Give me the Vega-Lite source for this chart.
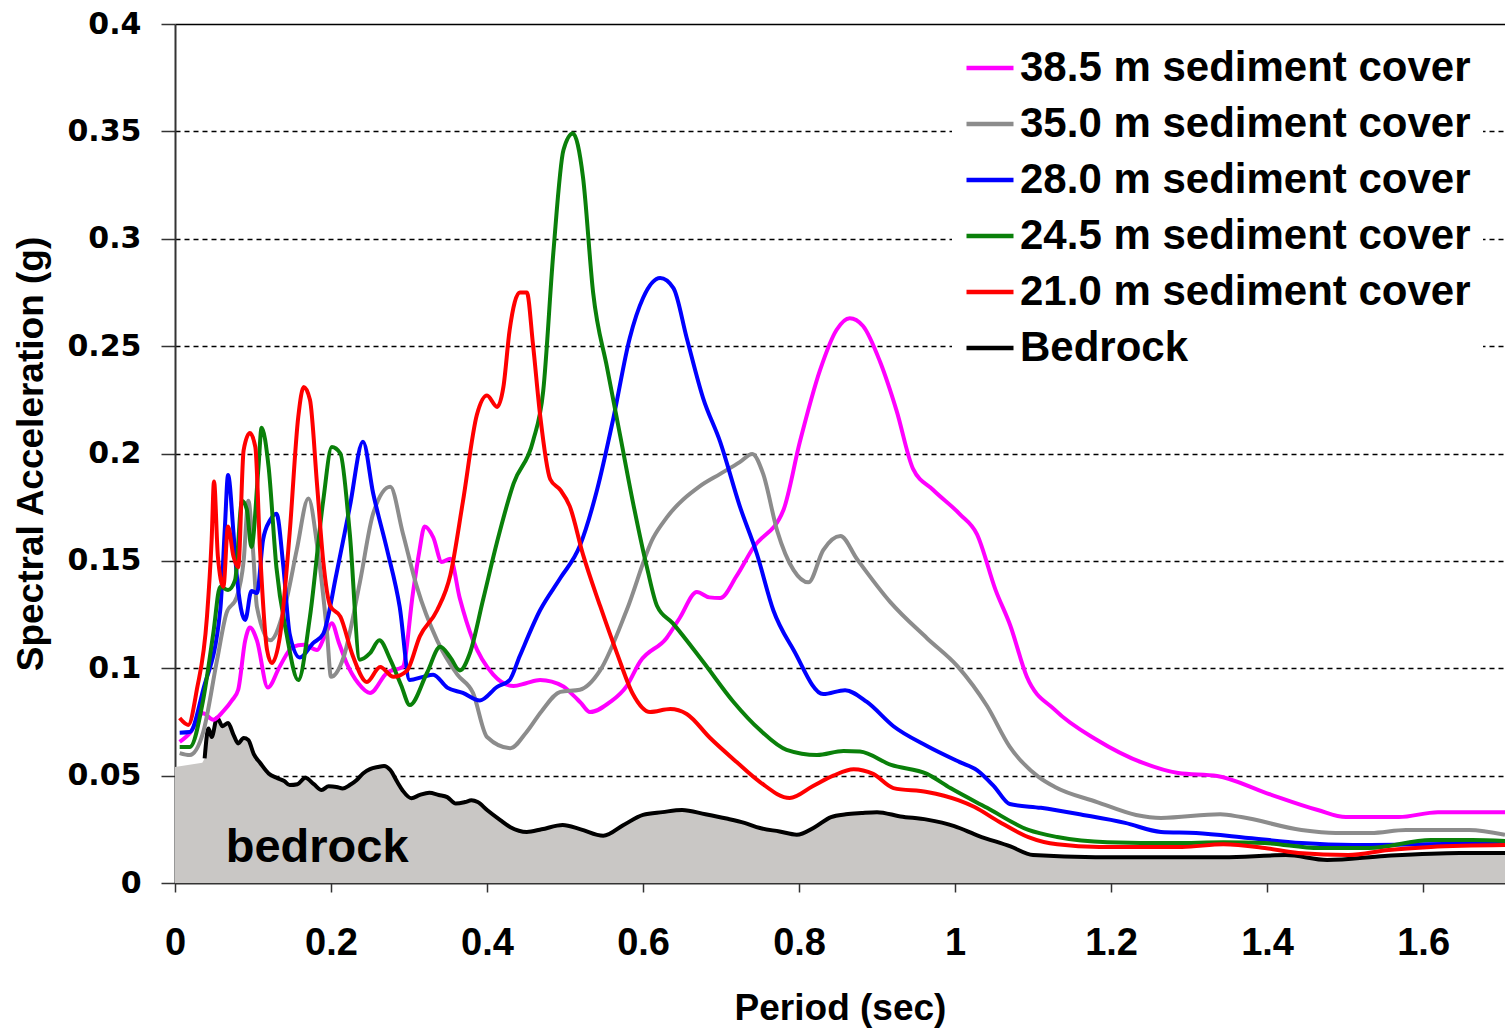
{
  "$schema": "https://vega.github.io/schema/vega-lite/v6.json",
  "width": 1330,
  "height": 859,
  "autosize": {"type": "none"},
  "padding": {"left": 175, "top": 24, "right": 0, "bottom": 146},
  "background": "white",
  "config": {"view": {"stroke": null}},
  "data": {"values": [
    {"s":"Bedrock","x":0,"y":0.054},{"s":"Bedrock","x":0.035,"y":0.056},{"s":"Bedrock","x":0.038,"y":0.058},{"s":"Bedrock","x":0.043,"y":0.072},{"s":"Bedrock","x":0.047,"y":0.068},{"s":"Bedrock","x":0.054,"y":0.077},{"s":"Bedrock","x":0.061,"y":0.073},{"s":"Bedrock","x":0.068,"y":0.0745},{"s":"Bedrock","x":0.075,"y":0.069},{"s":"Bedrock","x":0.081,"y":0.065},{"s":"Bedrock","x":0.088,"y":0.0675},{"s":"Bedrock","x":0.094,"y":0.0666},{"s":"Bedrock","x":0.101,"y":0.06},{"s":"Bedrock","x":0.109,"y":0.056},{"s":"Bedrock","x":0.12,"y":0.051},{"s":"Bedrock","x":0.13,"y":0.049},{"s":"Bedrock","x":0.14,"y":0.0475},{"s":"Bedrock","x":0.147,"y":0.0456},{"s":"Bedrock","x":0.157,"y":0.046},{"s":"Bedrock","x":0.167,"y":0.049},{"s":"Bedrock","x":0.178,"y":0.046},{"s":"Bedrock","x":0.188,"y":0.0433},{"s":"Bedrock","x":0.197,"y":0.045},{"s":"Bedrock","x":0.207,"y":0.0447},{"s":"Bedrock","x":0.215,"y":0.044},{"s":"Bedrock","x":0.224,"y":0.0456},{"s":"Bedrock","x":0.233,"y":0.048},{"s":"Bedrock","x":0.241,"y":0.051},{"s":"Bedrock","x":0.25,"y":0.053},{"s":"Bedrock","x":0.26,"y":0.054},{"s":"Bedrock","x":0.268,"y":0.0545},{"s":"Bedrock","x":0.276,"y":0.0526},{"s":"Bedrock","x":0.285,"y":0.047},{"s":"Bedrock","x":0.292,"y":0.043},{"s":"Bedrock","x":0.303,"y":0.0395},{"s":"Bedrock","x":0.314,"y":0.041},{"s":"Bedrock","x":0.326,"y":0.042},{"s":"Bedrock","x":0.338,"y":0.041},{"s":"Bedrock","x":0.349,"y":0.04},{"s":"Bedrock","x":0.36,"y":0.037},{"s":"Bedrock","x":0.372,"y":0.0377},{"s":"Bedrock","x":0.38,"y":0.0385},{"s":"Bedrock","x":0.388,"y":0.0377},{"s":"Bedrock","x":0.4,"y":0.034},{"s":"Bedrock","x":0.417,"y":0.0293},{"s":"Bedrock","x":0.43,"y":0.026},{"s":"Bedrock","x":0.451,"y":0.0238},{"s":"Bedrock","x":0.47,"y":0.025},{"s":"Bedrock","x":0.497,"y":0.027},{"s":"Bedrock","x":0.52,"y":0.025},{"s":"Bedrock","x":0.549,"y":0.022},{"s":"Bedrock","x":0.575,"y":0.027},{"s":"Bedrock","x":0.6,"y":0.0317},{"s":"Bedrock","x":0.625,"y":0.033},{"s":"Bedrock","x":0.65,"y":0.034},{"s":"Bedrock","x":0.68,"y":0.032},{"s":"Bedrock","x":0.707,"y":0.03},{"s":"Bedrock","x":0.73,"y":0.028},{"s":"Bedrock","x":0.75,"y":0.0256},{"s":"Bedrock","x":0.775,"y":0.024},{"s":"Bedrock","x":0.797,"y":0.0225},{"s":"Bedrock","x":0.82,"y":0.026},{"s":"Bedrock","x":0.841,"y":0.0307},{"s":"Bedrock","x":0.86,"y":0.032},{"s":"Bedrock","x":0.88,"y":0.0326},{"s":"Bedrock","x":0.9,"y":0.033},{"s":"Bedrock","x":0.93,"y":0.031},{"s":"Bedrock","x":0.964,"y":0.0295},{"s":"Bedrock","x":0.999,"y":0.0265},{"s":"Bedrock","x":1.03,"y":0.022},{"s":"Bedrock","x":1.071,"y":0.017},{"s":"Bedrock","x":1.1,"y":0.013},{"s":"Bedrock","x":1.18,"y":0.012},{"s":"Bedrock","x":1.344,"y":0.012},{"s":"Bedrock","x":1.424,"y":0.013},{"s":"Bedrock","x":1.477,"y":0.0107},{"s":"Bedrock","x":1.551,"y":0.0126},{"s":"Bedrock","x":1.647,"y":0.014},{"s":"Bedrock","x":1.705,"y":0.014},

    {"s":"38.5","x":0.006,"y":0.0657},{"s":"38.5","x":0.019,"y":0.0698},{"s":"38.5","x":0.036,"y":0.079},{"s":"38.5","x":0.049,"y":0.076},{"s":"38.5","x":0.062,"y":0.08},{"s":"38.5","x":0.073,"y":0.085},{"s":"38.5","x":0.081,"y":0.09},{"s":"38.5","x":0.09,"y":0.113},{"s":"38.5","x":0.096,"y":0.119},{"s":"38.5","x":0.105,"y":0.113},{"s":"38.5","x":0.119,"y":0.091},{"s":"38.5","x":0.134,"y":0.1006},{"s":"38.5","x":0.151,"y":0.11},{"s":"38.5","x":0.165,"y":0.111},{"s":"38.5","x":0.182,"y":0.1085},{"s":"38.5","x":0.192,"y":0.115},{"s":"38.5","x":0.201,"y":0.121},{"s":"38.5","x":0.21,"y":0.112},{"s":"38.5","x":0.22,"y":0.1024},{"s":"38.5","x":0.235,"y":0.093},{"s":"38.5","x":0.25,"y":0.0885},{"s":"38.5","x":0.272,"y":0.098},{"s":"38.5","x":0.292,"y":0.1006},{"s":"38.5","x":0.305,"y":0.135},{"s":"38.5","x":0.313,"y":0.154},{"s":"38.5","x":0.32,"y":0.166},{"s":"38.5","x":0.331,"y":0.161},{"s":"38.5","x":0.342,"y":0.1495},{"s":"38.5","x":0.353,"y":0.151},{"s":"38.5","x":0.365,"y":0.1327},{"s":"38.5","x":0.382,"y":0.113},{"s":"38.5","x":0.408,"y":0.097},{"s":"38.5","x":0.434,"y":0.0917},{"s":"38.5","x":0.45,"y":0.093},{"s":"38.5","x":0.468,"y":0.0945},{"s":"38.5","x":0.498,"y":0.0915},{"s":"38.5","x":0.506,"y":0.089},{"s":"38.5","x":0.52,"y":0.084},{"s":"38.5","x":0.532,"y":0.0796},{"s":"38.5","x":0.558,"y":0.0843},{"s":"38.5","x":0.579,"y":0.0917},{"s":"38.5","x":0.596,"y":0.103},{"s":"38.5","x":0.63,"y":0.114},{"s":"38.5","x":0.647,"y":0.1234},{"s":"38.5","x":0.669,"y":0.1355},{"s":"38.5","x":0.685,"y":0.133},{"s":"38.5","x":0.699,"y":0.1327},{"s":"38.5","x":0.72,"y":0.143},{"s":"38.5","x":0.741,"y":0.156},{"s":"38.5","x":0.78,"y":0.1737},{"s":"38.5","x":0.801,"y":0.2053},{"s":"38.5","x":0.827,"y":0.2389},{"s":"38.5","x":0.848,"y":0.2575},{"s":"38.5","x":0.865,"y":0.263},{"s":"38.5","x":0.882,"y":0.2594},{"s":"38.5","x":0.904,"y":0.2426},{"s":"38.5","x":0.925,"y":0.22},{"s":"38.5","x":0.946,"y":0.193},{"s":"38.5","x":0.972,"y":0.183},{"s":"38.5","x":1.006,"y":0.1718},{"s":"38.5","x":1.028,"y":0.1625},{"s":"38.5","x":1.052,"y":0.1364},{"s":"38.5","x":1.071,"y":0.1197},{"s":"38.5","x":1.092,"y":0.096},{"s":"38.5","x":1.128,"y":0.0806},{"s":"38.5","x":1.182,"y":0.0666},{"s":"38.5","x":1.241,"y":0.0559},{"s":"38.5","x":1.286,"y":0.0512},{"s":"38.5","x":1.336,"y":0.0498},{"s":"38.5","x":1.399,"y":0.0419},{"s":"38.5","x":1.465,"y":0.034},{"s":"38.5","x":1.501,"y":0.0307},{"s":"38.5","x":1.569,"y":0.0307},{"s":"38.5","x":1.619,"y":0.033},{"s":"38.5","x":1.705,"y":0.033},

    {"s":"35.0","x":0.006,"y":0.0605},{"s":"35.0","x":0.019,"y":0.0596},{"s":"35.0","x":0.036,"y":0.07},{"s":"35.0","x":0.054,"y":0.104},{"s":"35.0","x":0.066,"y":0.1257},{"s":"35.0","x":0.079,"y":0.133},{"s":"35.0","x":0.088,"y":0.15},{"s":"35.0","x":0.094,"y":0.178},{"s":"35.0","x":0.1,"y":0.155},{"s":"35.0","x":0.105,"y":0.1286},{"s":"35.0","x":0.122,"y":0.113},{"s":"35.0","x":0.143,"y":0.132},{"s":"35.0","x":0.156,"y":0.155},{"s":"35.0","x":0.171,"y":0.179},{"s":"35.0","x":0.183,"y":0.155},{"s":"35.0","x":0.195,"y":0.116},{"s":"35.0","x":0.2,"y":0.096},{"s":"35.0","x":0.216,"y":0.105},{"s":"35.0","x":0.237,"y":0.14},{"s":"35.0","x":0.254,"y":0.172},{"s":"35.0","x":0.276,"y":0.1845},{"s":"35.0","x":0.292,"y":0.163},{"s":"35.0","x":0.31,"y":0.138},{"s":"35.0","x":0.336,"y":0.113},{"s":"35.0","x":0.362,"y":0.097},{"s":"35.0","x":0.382,"y":0.0885},{"s":"35.0","x":0.4,"y":0.068},{"s":"35.0","x":0.43,"y":0.0628},{"s":"35.0","x":0.45,"y":0.07},{"s":"35.0","x":0.47,"y":0.08},{"s":"35.0","x":0.494,"y":0.089},{"s":"35.0","x":0.519,"y":0.09},{"s":"35.0","x":0.545,"y":0.099},{"s":"35.0","x":0.579,"y":0.127},{"s":"35.0","x":0.613,"y":0.1607},{"s":"35.0","x":0.63,"y":0.17},{"s":"35.0","x":0.673,"y":0.1848},{"s":"35.0","x":0.699,"y":0.1905},{"s":"35.0","x":0.724,"y":0.196},{"s":"35.0","x":0.74,"y":0.1998},{"s":"35.0","x":0.754,"y":0.1905},{"s":"35.0","x":0.772,"y":0.164},{"s":"35.0","x":0.793,"y":0.1457},{"s":"35.0","x":0.812,"y":0.14},{"s":"35.0","x":0.831,"y":0.155},{"s":"35.0","x":0.853,"y":0.1616},{"s":"35.0","x":0.874,"y":0.151},{"s":"35.0","x":0.917,"y":0.1308},{"s":"35.0","x":0.964,"y":0.114},{"s":"35.0","x":1.003,"y":0.101},{"s":"35.0","x":1.041,"y":0.0824},{"s":"35.0","x":1.07,"y":0.0635},{"s":"35.0","x":1.107,"y":0.0494},{"s":"35.0","x":1.128,"y":0.0447},{"s":"35.0","x":1.182,"y":0.0377},{"s":"35.0","x":1.232,"y":0.0317},{"s":"35.0","x":1.264,"y":0.0303},{"s":"35.0","x":1.34,"y":0.032},{"s":"35.0","x":1.367,"y":0.0307},{"s":"35.0","x":1.444,"y":0.0247},{"s":"35.0","x":1.488,"y":0.0233},{"s":"35.0","x":1.533,"y":0.0233},{"s":"35.0","x":1.578,"y":0.0247},{"s":"35.0","x":1.659,"y":0.0247},{"s":"35.0","x":1.705,"y":0.0224},

    {"s":"28.0","x":0.006,"y":0.07},{"s":"28.0","x":0.019,"y":0.0703},{"s":"28.0","x":0.036,"y":0.0898},{"s":"28.0","x":0.058,"y":0.127},{"s":"28.0","x":0.064,"y":0.166},{"s":"28.0","x":0.068,"y":0.19},{"s":"28.0","x":0.075,"y":0.163},{"s":"28.0","x":0.079,"y":0.144},{"s":"28.0","x":0.09,"y":0.1225},{"s":"28.0","x":0.098,"y":0.136},{"s":"28.0","x":0.105,"y":0.135},{"s":"28.0","x":0.113,"y":0.16},{"s":"28.0","x":0.122,"y":0.169},{"s":"28.0","x":0.13,"y":0.172},{"s":"28.0","x":0.139,"y":0.147},{"s":"28.0","x":0.147,"y":0.116},{"s":"28.0","x":0.16,"y":0.105},{"s":"28.0","x":0.177,"y":0.1117},{"s":"28.0","x":0.19,"y":0.116},{"s":"28.0","x":0.207,"y":0.144},{"s":"28.0","x":0.224,"y":0.175},{"s":"28.0","x":0.241,"y":0.2055},{"s":"28.0","x":0.254,"y":0.1815},{"s":"28.0","x":0.272,"y":0.155},{"s":"28.0","x":0.288,"y":0.1287},{"s":"28.0","x":0.301,"y":0.0945},{"s":"28.0","x":0.318,"y":0.096},{"s":"28.0","x":0.331,"y":0.097},{"s":"28.0","x":0.349,"y":0.091},{"s":"28.0","x":0.369,"y":0.0885},{"s":"28.0","x":0.391,"y":0.085},{"s":"28.0","x":0.413,"y":0.0913},{"s":"28.0","x":0.429,"y":0.0945},{"s":"28.0","x":0.442,"y":0.1057},{"s":"28.0","x":0.468,"y":0.127},{"s":"28.0","x":0.494,"y":0.142},{"s":"28.0","x":0.519,"y":0.157},{"s":"28.0","x":0.541,"y":0.183},{"s":"28.0","x":0.562,"y":0.2165},{"s":"28.0","x":0.583,"y":0.2538},{"s":"28.0","x":0.6,"y":0.2724},{"s":"28.0","x":0.622,"y":0.2817},{"s":"28.0","x":0.639,"y":0.277},{"s":"28.0","x":0.656,"y":0.2538},{"s":"28.0","x":0.677,"y":0.2258},{"s":"28.0","x":0.699,"y":0.2053},{"s":"28.0","x":0.724,"y":0.1755},{"s":"28.0","x":0.746,"y":0.1532},{"s":"28.0","x":0.767,"y":0.127},{"s":"28.0","x":0.793,"y":0.1085},{"s":"28.0","x":0.831,"y":0.088},{"s":"28.0","x":0.859,"y":0.0898},{"s":"28.0","x":0.887,"y":0.0843},{"s":"28.0","x":0.921,"y":0.073},{"s":"28.0","x":0.964,"y":0.0638},{"s":"28.0","x":1.006,"y":0.0563},{"s":"28.0","x":1.028,"y":0.0526},{"s":"28.0","x":1.05,"y":0.045},{"s":"28.0","x":1.07,"y":0.0368},{"s":"28.0","x":1.11,"y":0.035},{"s":"28.0","x":1.164,"y":0.0317},{"s":"28.0","x":1.218,"y":0.028},{"s":"28.0","x":1.264,"y":0.0238},{"s":"28.0","x":1.309,"y":0.0233},{"s":"28.0","x":1.376,"y":0.021},{"s":"28.0","x":1.444,"y":0.0186},{"s":"28.0","x":1.51,"y":0.0177},{"s":"28.0","x":1.533,"y":0.0177},{"s":"28.0","x":1.6,"y":0.018},{"s":"28.0","x":1.705,"y":0.0185},

    {"s":"24.5","x":0.006,"y":0.0633},{"s":"24.5","x":0.019,"y":0.0633},{"s":"24.5","x":0.036,"y":0.085},{"s":"24.5","x":0.049,"y":0.116},{"s":"24.5","x":0.058,"y":0.138},{"s":"24.5","x":0.068,"y":0.1364},{"s":"24.5","x":0.077,"y":0.141},{"s":"24.5","x":0.086,"y":0.178},{"s":"24.5","x":0.092,"y":0.174},{"s":"24.5","x":0.098,"y":0.1565},{"s":"24.5","x":0.107,"y":0.1937},{"s":"24.5","x":0.111,"y":0.212},{"s":"24.5","x":0.12,"y":0.1937},{"s":"24.5","x":0.13,"y":0.147},{"s":"24.5","x":0.143,"y":0.116},{"s":"24.5","x":0.158,"y":0.0945},{"s":"24.5","x":0.173,"y":0.124},{"s":"24.5","x":0.19,"y":0.178},{"s":"24.5","x":0.201,"y":0.203},{"s":"24.5","x":0.212,"y":0.2},{"s":"24.5","x":0.224,"y":0.163},{"s":"24.5","x":0.237,"y":0.104},{"s":"24.5","x":0.25,"y":0.107},{"s":"24.5","x":0.262,"y":0.113},{"s":"24.5","x":0.276,"y":0.104},{"s":"24.5","x":0.29,"y":0.092},{"s":"24.5","x":0.301,"y":0.0829},{"s":"24.5","x":0.323,"y":0.0978},{"s":"24.5","x":0.34,"y":0.11},{"s":"24.5","x":0.353,"y":0.105},{"s":"24.5","x":0.365,"y":0.099},{"s":"24.5","x":0.378,"y":0.107},{"s":"24.5","x":0.395,"y":0.132},{"s":"24.5","x":0.413,"y":0.159},{"s":"24.5","x":0.434,"y":0.186},{"s":"24.5","x":0.459,"y":0.2058},{"s":"24.5","x":0.472,"y":0.229},{"s":"24.5","x":0.485,"y":0.2934},{"s":"24.5","x":0.498,"y":0.3413},{"s":"24.5","x":0.51,"y":0.349},{"s":"24.5","x":0.523,"y":0.3288},{"s":"24.5","x":0.536,"y":0.275},{"s":"24.5","x":0.554,"y":0.2398},{"s":"24.5","x":0.571,"y":0.2077},{"s":"24.5","x":0.587,"y":0.1774},{"s":"24.5","x":0.605,"y":0.147},{"s":"24.5","x":0.618,"y":0.129},{"s":"24.5","x":0.638,"y":0.121},{"s":"24.5","x":0.677,"y":0.103},{"s":"24.5","x":0.716,"y":0.0843},{"s":"24.5","x":0.75,"y":0.0712},{"s":"24.5","x":0.784,"y":0.062},{"s":"24.5","x":0.823,"y":0.0596},{"s":"24.5","x":0.857,"y":0.0615},{"s":"24.5","x":0.878,"y":0.0612},{"s":"24.5","x":0.918,"y":0.055},{"s":"24.5","x":0.964,"y":0.0508},{"s":"24.5","x":0.994,"y":0.0442},{"s":"24.5","x":1.041,"y":0.035},{"s":"24.5","x":1.094,"y":0.0247},{"s":"24.5","x":1.131,"y":0.0214},{"s":"24.5","x":1.195,"y":0.019},{"s":"24.5","x":1.281,"y":0.0186},{"s":"24.5","x":1.344,"y":0.019},{"s":"24.5","x":1.397,"y":0.0186},{"s":"24.5","x":1.467,"y":0.0163},{"s":"24.5","x":1.531,"y":0.0163},{"s":"24.5","x":1.61,"y":0.02},{"s":"24.5","x":1.663,"y":0.02},{"s":"24.5","x":1.705,"y":0.0195},

    {"s":"21.0","x":0.006,"y":0.0768},{"s":"21.0","x":0.017,"y":0.0736},{"s":"21.0","x":0.028,"y":0.09},{"s":"21.0","x":0.041,"y":0.124},{"s":"21.0","x":0.047,"y":0.16},{"s":"21.0","x":0.05,"y":0.187},{"s":"21.0","x":0.055,"y":0.152},{"s":"21.0","x":0.062,"y":0.138},{"s":"21.0","x":0.068,"y":0.166},{"s":"21.0","x":0.075,"y":0.152},{"s":"21.0","x":0.081,"y":0.147},{"s":"21.0","x":0.088,"y":0.2016},{"s":"21.0","x":0.096,"y":0.2095},{"s":"21.0","x":0.103,"y":0.203},{"s":"21.0","x":0.109,"y":0.155},{"s":"21.0","x":0.118,"y":0.1085},{"s":"21.0","x":0.124,"y":0.1024},{"s":"21.0","x":0.135,"y":0.116},{"s":"21.0","x":0.147,"y":0.163},{"s":"21.0","x":0.158,"y":0.217},{"s":"21.0","x":0.165,"y":0.231},{"s":"21.0","x":0.173,"y":0.225},{"s":"21.0","x":0.182,"y":0.186},{"s":"21.0","x":0.19,"y":0.15},{"s":"21.0","x":0.199,"y":0.129},{"s":"21.0","x":0.212,"y":0.124},{"s":"21.0","x":0.228,"y":0.1057},{"s":"21.0","x":0.246,"y":0.0936},{"s":"21.0","x":0.263,"y":0.1006},{"s":"21.0","x":0.28,"y":0.096},{"s":"21.0","x":0.297,"y":0.0987},{"s":"21.0","x":0.314,"y":0.115},{"s":"21.0","x":0.336,"y":0.127},{"s":"21.0","x":0.353,"y":0.1434},{"s":"21.0","x":0.369,"y":0.1774},{"s":"21.0","x":0.387,"y":0.218},{"s":"21.0","x":0.4,"y":0.227},{"s":"21.0","x":0.413,"y":0.2217},{"s":"21.0","x":0.421,"y":0.231},{"s":"21.0","x":0.429,"y":0.2575},{"s":"21.0","x":0.442,"y":0.275},{"s":"21.0","x":0.451,"y":0.275},{"s":"21.0","x":0.459,"y":0.2505},{"s":"21.0","x":0.468,"y":0.218},{"s":"21.0","x":0.481,"y":0.188},{"s":"21.0","x":0.494,"y":0.183},{"s":"21.0","x":0.506,"y":0.1755},{"s":"21.0","x":0.523,"y":0.153},{"s":"21.0","x":0.545,"y":0.129},{"s":"21.0","x":0.567,"y":0.1066},{"s":"21.0","x":0.587,"y":0.088},{"s":"21.0","x":0.609,"y":0.0796},{"s":"21.0","x":0.635,"y":0.081},{"s":"21.0","x":0.656,"y":0.0787},{"s":"21.0","x":0.686,"y":0.0675},{"s":"21.0","x":0.72,"y":0.0563},{"s":"21.0","x":0.75,"y":0.047},{"s":"21.0","x":0.788,"y":0.0396},{"s":"21.0","x":0.818,"y":0.0452},{"s":"21.0","x":0.844,"y":0.05},{"s":"21.0","x":0.87,"y":0.053},{"s":"21.0","x":0.895,"y":0.0508},{"s":"21.0","x":0.921,"y":0.0442},{"s":"21.0","x":0.964,"y":0.0424},{"s":"21.0","x":1.004,"y":0.0386},{"s":"21.0","x":1.025,"y":0.0354},{"s":"21.0","x":1.057,"y":0.0284},{"s":"21.0","x":1.094,"y":0.0214},{"s":"21.0","x":1.131,"y":0.018},{"s":"21.0","x":1.185,"y":0.0168},{"s":"21.0","x":1.291,"y":0.0168},{"s":"21.0","x":1.344,"y":0.018},{"s":"21.0","x":1.397,"y":0.0163},{"s":"21.0","x":1.44,"y":0.014},{"s":"21.0","x":1.504,"y":0.013},{"s":"21.0","x":1.556,"y":0.0154},{"s":"21.0","x":1.61,"y":0.0168},{"s":"21.0","x":1.705,"y":0.0177}
  ]},
  "encoding": {
    "x": {"field": "x", "type": "quantitative",
      "scale": {"domain": [0, 1.705], "nice": false, "zero": false},
      "axis": {
        "title": "Period (sec)",
        "values": [0,0.04,0.08,0.12,0.16,0.2,0.24,0.28,0.32,0.36,0.4,0.44,0.48,0.52,0.56,0.6,0.64,0.68,0.72,0.76,0.8,0.84,0.88,0.92,0.96,1,1.04,1.08,1.12,1.16,1.2,1.24,1.28,1.32,1.36,1.4,1.44,1.48,1.52,1.56,1.6,1.64,1.68],
        "labelExpr": "abs(datum.value*5 - round(datum.value*5)) < 0.001 ? format(datum.value, '~g') : ''",
        "tickSize": {"condition": {"test": "abs(datum.value*5 - round(datum.value*5)) < 0.001", "value": 9}, "value": -8},
        "tickColor": "#333333", "tickWidth": 1.5,
        "domainColor": "#333333", "domainWidth": 2,
        "labelFont": "Liberation Sans", "labelFontWeight": "bold", "labelFontSize": 38, "labelColor": "black",
        "labelPadding": 32, "labelOverlap": false, "labelFlush": false,
        "titleFont": "Liberation Sans", "titleFontWeight": "bold", "titleFontSize": 37, "titleColor": "black",
        "titlePadding": 28, "grid": false
      }
    },
    "y": {"field": "y", "type": "quantitative",
      "scale": {"domain": [0, 0.4], "nice": false},
      "axis": {
        "title": "Spectral Acceleration (g)",
        "values": [0,0.05,0.1,0.15,0.2,0.25,0.3,0.35,0.4],
        "labelExpr": "format(datum.value, '~g')",
        "tickSize": 14, "tickColor": "#333333", "tickWidth": 1.5,
        "domainColor": "#333333", "domainWidth": 2,
        "labelFont": "DejaVu Sans", "labelFontWeight": "bold", "labelFontSize": 30, "labelColor": "black",
        "labelPadding": 20,
        "titleFont": "Liberation Sans", "titleFontWeight": "bold", "titleFontSize": 37, "titleColor": "black",
        "titlePadding": 16,
        "grid": true, "gridColor": "black", "gridWidth": 1.3,
        "gridDash": {"condition": {"test": "datum.value > 0.39", "value": []}, "value": [5, 4]},
        "gridOpacity": {"condition": {"test": "datum.value < 0.01", "value": 0}, "value": 1}
      }
    }
  },
  "layer": [
    {
      "transform": [{"filter": "datum.s == 'Bedrock'"}],
      "mark": {"type": "area", "color": "#c9c7c5"},
      "encoding": {}
    },
    {
      "transform": [{"filter": "datum.s != 'Bedrock' || datum.x >= 0.037"}],
      "mark": {"type": "line", "strokeWidth": 4, "strokeJoin": "round", "interpolate": "monotone"},
      "encoding": {
        "color": {"field": "s", "type": "nominal",
          "scale": {"domain": ["38.5","35.0","28.0","24.5","21.0","Bedrock"],
                    "range": ["#ff00ff","#8c8c8c","#0000ff","#0a800a","#ff0000","#000000"]},
          "legend": {
            "orient": "none", "legendX": 777, "legendY": 6, "title": null,
            "labelExpr": "datum.label == 'Bedrock' ? 'Bedrock' : datum.label + ' m sediment cover'",
            "symbolType": "stroke", "symbolSize": 2209, "symbolStrokeWidth": 4.5,
            "labelFont": "Liberation Sans", "labelFontWeight": "bold", "labelFontSize": 42, "labelColor": "black",
            "labelOffset": 4, "rowPadding": 9, "labelLimit": 700,
            "fillColor": "white", "padding": 12
          }
        }
      }
    },
    {
      "data": {"values": [{"x": 0.065, "y": 0.0098, "t": "bedrock"}]},
      "mark": {"type": "text", "align": "left", "baseline": "alphabetic", "font": "Liberation Sans", "fontWeight": "bold", "fontSize": 47, "color": "black"},
      "encoding": {"text": {"field": "t"}}
    }
  ]
}
